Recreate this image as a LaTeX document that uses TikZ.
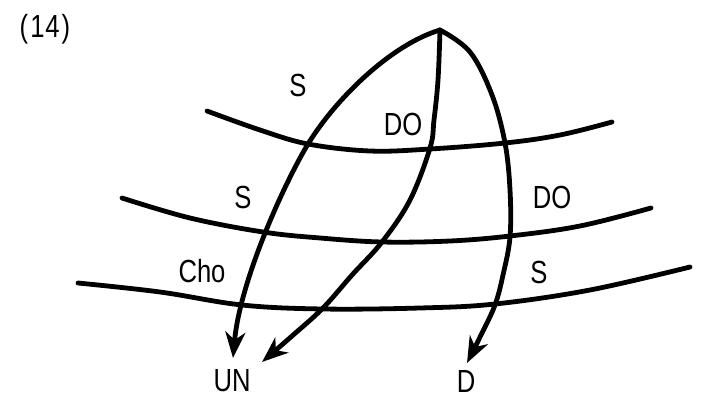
\documentclass[tikz,border=0pt]{standalone}
\usepackage{fontspec}
\setmainfont{Liberation Sans}[FakeStretch=0.8]
\usetikzlibrary{arrows.meta}
\begin{document}
\begin{tikzpicture}[x=1pt,y=-1pt,
  stroke/.style={line width=4.8pt,line cap=round,line join=round},
  arc/.style={stroke,-{Stealth[length=26pt,width=20pt,inset=8pt]}},
  lbl/.style={font=\fontsize{32}{32}\selectfont,inner sep=0pt}]
\useasboundingbox (0,0) rectangle (703,398);
% labels
\node[lbl] (num) at (45,29) {(\kern2pt1\kern1pt4\kern2pt)};
\node[lbl] (s1) at (298,85) {S};
\node[lbl] (do1) at (403,124) {DO};
\node[lbl] (s2) at (243,197) {S};
\node[lbl] (do2) at (552,197) {DO};
\node[lbl] (cho) at (202,271) {Cho};
\node[lbl] (s3) at (539,272) {S};
\node[lbl] (UN) at (232,381) {UN};
\node[lbl] (D) at (466,381) {D};
\coordinate (apex) at (440,30);
\coordinate (tipA) at (233,358);
\coordinate (tipB) at (262,362);
\coordinate (tipC) at (467,363);
\coordinate (xA) at (308,144);
% horizontal layers
\draw[stroke] plot[smooth,tension=0.6] coordinates {(207,111) (260,130) (308,144) (370,151) (430,149) (505,143) (560,135) (612,122)};
\draw[stroke] plot[smooth,tension=0.6] coordinates {(122,198) (190,218) (263,232) (320,238) (382,242) (450,241) (510,236) (580,226) (651,208)};
\draw[stroke] plot[smooth,tension=0.6] coordinates {(78,283) (160,292) (242,305) (323,309) (420,308) (495,304) (590,290) (690,267)};
% arcs from apex
\draw[arc] (apex) .. controls (390,45) and (335,100) .. (xA) .. controls (285,182) and (240,280) .. (tipA);
\draw[arc] plot[smooth,tension=0.6] coordinates {(apex) (438,80) (434,120) (430,148) (410,200) (382,242) (352,275) (323,308) (292,336) (tipB)};
\draw[arc] plot[smooth,tension=0.6] coordinates {(apex) (470,52) (492,95) (505,143) (510,190) (510,237) (503,275) (495,305) (482,333) (tipC)};
\end{tikzpicture}
\end{document}
